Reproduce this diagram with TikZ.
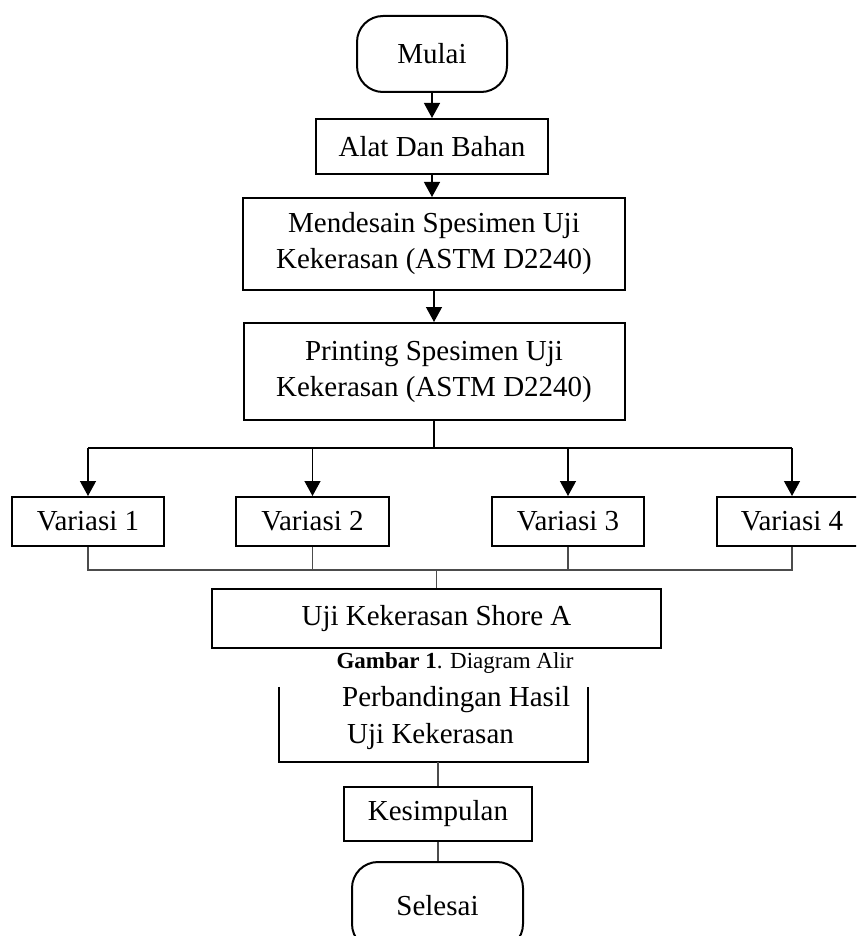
\documentclass[tikz,border=0pt]{standalone}
\usepackage{fontspec}
\setmainfont{Liberation Serif}
\usetikzlibrary{arrows.meta}
\begin{document}
\begin{tikzpicture}[x=1pt,y=-1pt,
  box/.style={draw,line width=2pt,inner sep=0pt,align=center,font=\fontsize{29}{36}\selectfont},
  term/.style={box,rounded corners=26pt},
  conn/.style={line width=1.3pt},
  arr/.style={conn,-{Triangle[width=16pt,length=15pt]}},
  grayconn/.style={line width=1.3pt,draw=black!70}]
\useasboundingbox (0,0) rectangle (856,936);
\clip (0,0) rectangle (856,936);
\fill[white] (0,0) rectangle (856,936);

\node[term,minimum width=150pt,minimum height=76pt] (mulai) at (432,54) {Mulai};
\node[box,minimum width=232pt,minimum height=55pt] (alat) at (432,146.5) {Alat Dan Bahan};
\node[box,minimum width=382pt,minimum height=92pt] (desain) at (434,244) {Mendesain Spesimen Uji\\Kekerasan (ASTM D2240)};
\node[box,minimum width=381pt,minimum height=97pt] (print) at (434,371.5) {Printing Spesimen Uji\\Kekerasan (ASTM D2240)};

\node[box,minimum width=152pt,minimum height=49pt] (v1) at (88,521.5) {Variasi 1};
\node[box,minimum width=153pt,minimum height=49pt] (v2) at (312.5,521.5) {Variasi 2};
\node[box,minimum width=152pt,minimum height=49pt] (v3) at (568,521.5) {Variasi 3};
\node[box,minimum width=150pt,minimum height=49pt] (v4) at (792,521.5) {Variasi 4};

\node[box,minimum width=449pt,minimum height=59pt] (uji) at (436.5,618.5) {Uji Kekerasan Shore A};

\node[font=\fontsize{23}{28}\selectfont,inner sep=0pt] (cap) at (455,663) {\textbf{Gambar 1}. Diagram Alir};

\node[inner sep=0pt,minimum width=309pt,minimum height=75pt] (perb) at (433.5,724.5) {};
\draw[line width=2pt] (perb.north west) -- (perb.south west) -- (perb.south east) -- (perb.north east);
\node[anchor=west,inner sep=0pt,font=\fontsize{29}{36}\selectfont] (perb1) at (342,700) {Perbandingan Hasil};
\node[anchor=west,inner sep=0pt,font=\fontsize{29}{36}\selectfont] (perb2) at (347,737) {Uji Kekerasan};

\node[box,minimum width=188pt,minimum height=54pt] (kes) at (438,814) {Kesimpulan};
\node[term,minimum width=171pt,minimum height=88pt] (sel) at (437.5,906) {Selesai};

% connectors
\draw[arr] (mulai.south) -- (alat.north);
\draw[arr] (alat.south) -- (alat.south |- desain.north);
\draw[arr] (desain.south) -- (print.north);

\coordinate (split) at (434,448);
\coordinate (sl) at (88,448);
\coordinate (sr) at (792,448);
\draw[conn] (print.south) -- (split);
\draw[conn] (sl) -- (sr);
\draw[arr] (sl) -- (v1.north);
\draw[arr] (v2.north |- sl) -- (v2.north);
\draw[arr] (v3.north |- sl) -- (v3.north);
\draw[arr] (sr) -- (v4.north);

\coordinate (ml) at (88,570);
\coordinate (mr) at (792,570);
\draw[grayconn] (v1.south) -- (ml) -- (mr) -- (v4.south);
\draw[grayconn] (v2.south) -- (v2.south |- ml);
\draw[grayconn] (v3.south) -- (v3.south |- ml);
\draw[grayconn] (uji.north |- ml) -- (uji.north);

\draw[grayconn] (perb.south -| kes.north) -- (kes.north);
\draw[grayconn] (kes.south) -- (kes.south |- sel.north);
\end{tikzpicture}
\end{document}
